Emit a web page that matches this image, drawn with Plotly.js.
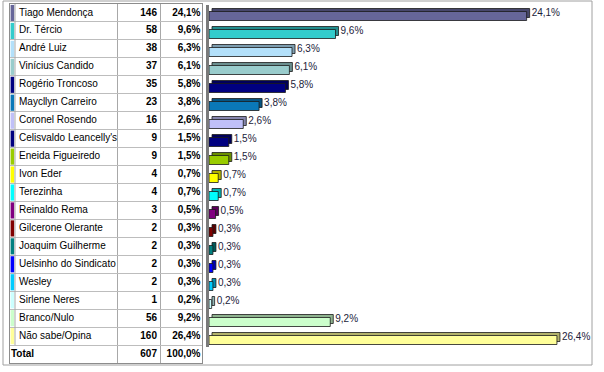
<!DOCTYPE html>
<html><head><meta charset="utf-8">
<script src="https://cdn.plot.ly/plotly-3.0.1.min.js"></script>
<style>html,body{margin:0;padding:0;background:#fff}#chart{width:604px;height:372px}</style>
</head><body><div id="chart"></div>
<script>
// ---- data ----
const names = ["Tiago Mendonça","Dr. Tércio","André Luiz","Vinícius Candido","Rogério Troncoso","Maycllyn Carreiro","Coronel Rosendo","Celisvaldo Leancelly's","Eneida Figueiredo","Ivon Eder","Terezinha","Reinaldo Rema","Gilcerone Olerante","Joaquim Guilherme","Uelsinho do Sindicato","Wesley","Sirlene Neres","Branco/Nulo","Não sabe/Opina"];
const counts = [146,58,38,37,35,23,16,9,9,4,4,3,2,2,2,2,1,56,160];
const percents = [24.1,9.6,6.3,6.1,5.8,3.8,2.6,1.5,1.5,0.7,0.7,0.5,0.3,0.3,0.3,0.3,0.2,9.2,26.4];
const colors = ["#666699","#33CCCC","#B3E0FA","#99CCCC","#000080","#0A78B8","#C0C0F8","#000080","#99CC00","#FFFF00","#00FFFF","#800080","#800000","#008080","#0000FF","#00CCFF","#CCFFFF","#CCFFCC","#FFFF99"];
const totalLabel = "Total";
const totalCount = 607;
const totalPercent = 100.0;

// ---- helpers ----
const W = 604, H = 372;
const fx = p => p / W;
const fy = p => 1 - p / H;
const fmt = v => v.toFixed(1).replace('.', ',') + '%';
function darker(hex, k) {
  const n = parseInt(hex.slice(1), 16);
  const r = Math.round(((n >> 16) & 255) * k), g = Math.round(((n >> 8) & 255) * k), b = Math.round((n & 255) * k);
  return 'rgb(' + r + ',' + g + ',' + b + ')';
}
const rows = names.map((_, i) => i);
const allRows = rows.concat([names.length]);
const FONT = "Liberation Sans, Arial, sans-serif";

// table geometry (pixels)
const ROW0 = 13, STEP = 17.95;
// bar geometry
const ROW0B = 13, STEPB = 18, ZERO = 209, SCALE = 13.18, RIGHT = 592;
const depth = 3 / SCALE;

const traces = [
  // colour swatches in the table
  {type: 'bar', orientation: 'h', xaxis: 'x', yaxis: 'y', y: rows, x: rows.map(() => 3.6), base: 10.6,
   width: 0.9, marker: {color: colors, line: {width: 0}}, hoverinfo: 'skip'},
  // names
  {type: 'scatter', mode: 'text', xaxis: 'x', yaxis: 'y', y: rows, x: rows.map(() => 19),
   text: names, textposition: 'middle right', textfont: {family: FONT, size: 10, color: '#000'}, cliponaxis: false},
  {type: 'scatter', mode: 'text', xaxis: 'x', yaxis: 'y', y: [names.length], x: [11],
   text: [totalLabel], textposition: 'middle right', textfont: {family: FONT, size: 10, color: '#000', weight: 'bold'}, cliponaxis: false},
  // counts
  {type: 'scatter', mode: 'text', xaxis: 'x', yaxis: 'y', y: allRows, x: allRows.map(() => 157),
   text: counts.concat([totalCount]).map(String), textposition: 'middle left', textfont: {family: FONT, size: 10, color: '#000', weight: 'bold'}, cliponaxis: false},
  // percents
  {type: 'scatter', mode: 'text', xaxis: 'x', yaxis: 'y', y: allRows, x: allRows.map(() => 200.5),
   text: percents.concat([totalPercent]).map(fmt), textposition: 'middle left', textfont: {family: FONT, size: 10, color: '#000', weight: 'bold'}, cliponaxis: false},
  // 3D back of bars
  {type: 'bar', orientation: 'h', xaxis: 'x2', yaxis: 'y2', y: rows, x: percents, base: depth,
   offset: -4.5 / STEPB, width: 9 / STEPB,
   marker: {color: colors.map(c => darker(c, 0.7)), line: {color: '#1a1a1a', width: 0.8}}, hoverinfo: 'skip'},
  // front of bars
  {type: 'bar', orientation: 'h', xaxis: 'x2', yaxis: 'y2', y: rows, x: percents, base: 0,
   offset: -1.5 / STEPB, width: 9 / STEPB,
   marker: {color: colors, line: {color: '#1a1a1a', width: 0.8}}, hoverinfo: 'skip'},
  // value labels (invisible marker gives the gap after the bar end)
  {type: 'scatter', mode: 'markers+text', xaxis: 'x2', yaxis: 'y2', y: rows, x: percents,
   marker: {size: 6.4, color: 'rgba(0,0,0,0)'},
   text: percents.map(fmt), textposition: 'middle right', textfont: {family: FONT, size: 10, color: '#1c1c3a'}, cliponaxis: false}
];

const layout = {
  width: W, height: H, margin: {l: 0, r: 0, t: 0, b: 0},
  paper_bgcolor: '#fff', plot_bgcolor: 'rgba(0,0,0,0)',
  showlegend: false, barmode: 'overlay',
  xaxis: {domain: [fx(10), fx(202)], range: [10, 202], tickvals: [117, 160], showgrid: true, gridcolor: '#a8a8a8', gridwidth: 1,
          showticklabels: false, ticks: '', zeroline: false, showline: true, mirror: true, linecolor: '#8c8c8c', linewidth: 1, fixedrange: true},
  yaxis: {domain: [fy(ROW0 + STEP * 19.5), fy(ROW0 - STEP * 0.5)], range: [19.5, -0.5],
          tickvals: rows.map(i => i + 0.5), showgrid: true, gridcolor: '#bdbdbd', gridwidth: 1,
          showticklabels: false, ticks: '', zeroline: false, showline: true, mirror: true, linecolor: '#8c8c8c', linewidth: 1, fixedrange: true},
  xaxis2: {domain: [fx(ZERO), fx(RIGHT)], range: [0, (RIGHT - ZERO) / SCALE], anchor: 'y2',
           showgrid: false, zeroline: false, showticklabels: false, ticks: '', showline: false, fixedrange: true},
  yaxis2: {domain: [fy(347), fy(5)], range: [(347 - ROW0B) / STEPB, (5 - ROW0B) / STEPB], anchor: 'x2',
           showgrid: false, zeroline: false, showticklabels: false, ticks: '', showline: true, linecolor: '#7a7a7a', linewidth: 3, fixedrange: true},
  shapes: [
    {type: 'rect', xref: 'paper', yref: 'paper', x0: fx(3), x1: fx(592), y0: fy(365), y1: fy(1), line: {color: '#a0a0a0', width: 1}, layer: 'below'},
    {type: 'line', xref: 'x', yref: 'y', x0: 15, x1: 15, y0: -0.5, y1: names.length - 0.5, line: {color: '#a8a8a8', width: 1}}
  ]
};

Plotly.newPlot('chart', traces, layout, {staticPlot: true, displayModeBar: false});
</script>
</body></html>
